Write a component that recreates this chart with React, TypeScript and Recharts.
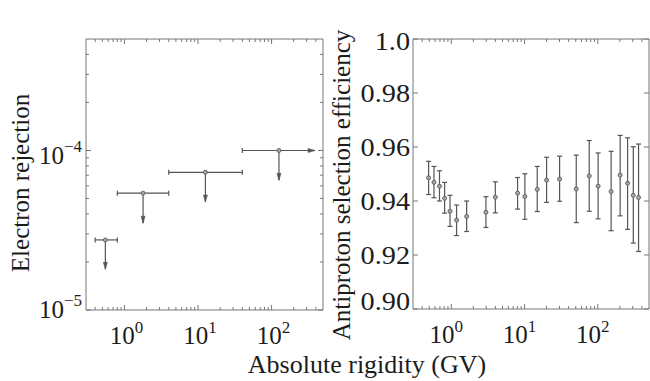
import React from 'react';
import { ScatterChart, Scatter, XAxis, YAxis, ErrorBar } from 'recharts';

const FONT = '"Liberation Serif"';
const AXIS = '#777777';
const INK = '#555555';
const TEXT = '#1c1c1c';

// ---------- Left panel: electron rejection (upper limits) ----------
const binLow = [0.4, 0.8, 4, 40];
const binHigh = [0.8, 4, 40, 390];
const binCenter = [0.55, 1.79, 12.6, 126];
const rejection = [2.75e-5, 5.4e-5, 7.3e-5, 1.0e-4];
const rejectionArrowEnd = [1.8e-5, 3.5e-5, 4.75e-5, 6.5e-5];

// ---------- Right panel: antiproton selection efficiency ----------
const rigidity = [0.49, 0.58, 0.69, 0.81, 0.96, 1.18, 1.62, 2.97, 3.99, 8.03, 10.1, 14.9, 20.0, 30.1, 50.8, 76.4, 101, 152, 202, 255, 305, 360];
const efficiency = [0.9486, 0.9469, 0.9455, 0.9410, 0.9362, 0.9329, 0.9343, 0.9358, 0.9414, 0.9429, 0.9417, 0.9443, 0.9477, 0.9481, 0.9445, 0.9493, 0.9455, 0.9435, 0.9496, 0.9466, 0.9421, 0.9413];
const effLow = [0.9424, 0.9412, 0.9400, 0.9355, 0.9306, 0.9272, 0.9287, 0.9302, 0.9356, 0.9370, 0.9332, 0.9361, 0.9395, 0.9399, 0.9320, 0.9362, 0.9334, 0.9290, 0.9345, 0.9295, 0.9244, 0.9213];
const effHigh = [0.9547, 0.9528, 0.9512, 0.9469, 0.9421, 0.9385, 0.9400, 0.9416, 0.9471, 0.9487, 0.9501, 0.9528, 0.9562, 0.9566, 0.9570, 0.9624, 0.9578, 0.9584, 0.9643, 0.9634, 0.9601, 0.9611];

// ---------- Axes ----------
const xDomain = [0.3, 500];
const xTicks = [0.4, 0.5, 0.6, 0.7, 0.8, 0.9, 1, 2, 3, 4, 5, 6, 7, 8, 9, 10, 20, 30, 40, 50, 60, 70, 80, 90, 100, 200, 300, 400];
const rejDomain = [1e-5, 5e-4];
const rejTicks = [1e-5, 2e-5, 3e-5, 4e-5, 5e-5, 6e-5, 7e-5, 8e-5, 9e-5, 1e-4, 2e-4, 3e-4, 4e-4];
const effDomain = [0.9, 1.0];
const effTicks = [0.9, 0.92, 0.94, 0.96, 0.98, 1.0];

const textStyle = { fontFamily: FONT };

const isMajorLog = (v: number) => {
  const l = Math.log10(v);
  return Math.abs(l - Math.round(l)) < 1e-6;
};

const bottomLogTick = (dx: number) => (props: any) => {
  const { x, y, payload } = props;
  const v = payload.value;
  const major = isMajorLog(v);
  return (
    <g>
      <line x1={x} y1={y} x2={x} y2={y - (major ? 5 : 3)} stroke={AXIS} strokeWidth={1} />
      {major && (
        <text x={x + dx} y={y + 34} textAnchor="middle" style={textStyle} fontSize={25} fill={TEXT}>
          10<tspan dy={-11} fontSize={17}>{Math.round(Math.log10(v))}</tspan>
        </text>
      )}
    </g>
  );
};

const topLogTick = (props: any) => {
  const { x, y, payload } = props;
  const major = isMajorLog(payload.value);
  return <line x1={x} y1={y} x2={x} y2={y + (major ? 5 : 3)} stroke={AXIS} strokeWidth={1} />;
};

const leftLogTick = (props: any) => {
  const { x, y, payload } = props;
  const v = payload.value;
  const major = isMajorLog(v);
  const e = Math.round(Math.log10(v));
  const shift = e === -5 ? -6 : 0;
  return (
    <g>
      <line x1={x} y1={y} x2={x + (major ? 5 : 3)} y2={y} stroke={AXIS} strokeWidth={1} />
      {major && (
        <text x={x - 4} y={y + 14 + shift} textAnchor="end" style={textStyle} fontSize={25} fill={TEXT}>
          10<tspan dy={-12} fontSize={17}>{'\u2212' + Math.abs(e)}</tspan>
        </text>
      )}
    </g>
  );
};

const rightLogTick = (props: any) => {
  const { x, y, payload } = props;
  const major = isMajorLog(payload.value);
  return <line x1={x} y1={y} x2={x - (major ? 5 : 3)} y2={y} stroke={AXIS} strokeWidth={1} />;
};

const leftLinTick = (props: any) => {
  const { x, y, payload } = props;
  const v = payload.value;
  const label = Math.abs(v - 1) < 1e-9 ? '1.0' : v.toFixed(2);
  let base = 8.5;
  if (Math.abs(v - 0.9) < 1e-9) base = 1;
  if (Math.abs(v - 1) < 1e-9) base = 10.5;
  return (
    <g>
      <line x1={x} y1={y} x2={x + 5} y2={y} stroke={AXIS} strokeWidth={1} />
      <text
        transform={`translate(${x - 3},${y + base}) scale(1.13,1)`}
        x={0} y={0} textAnchor="end" style={textStyle} fontSize={25} fill={TEXT}
      >
        {label}
      </text>
    </g>
  );
};

const rightLinTick = (props: any) => {
  const { x, y } = props;
  return <line x1={x} y1={y} x2={x - 5} y2={y} stroke={AXIS} strokeWidth={1} />;
};

// ---------- Marks ----------
const endShape = (props: any) => {
  const { cx, cy, payload } = props;
  if (cx == null || cy == null) return <g />;
  if (payload.end === 'cap') {
    return <line x1={cx} y1={cy - 2.5} x2={cx} y2={cy + 2.5} stroke={INK} strokeWidth={1.2} />;
  }
  if (payload.end === 'arrowRight') {
    return <polygon points={`${cx - 7},${cy - 2} ${cx - 7},${cy + 2} ${cx},${cy}`} fill={INK} stroke={INK} strokeWidth={0.6} />;
  }
  if (payload.end === 'arrowDown') {
    return <polygon points={`${cx - 2},${cy - 7} ${cx + 2},${cy - 7} ${cx},${cy}`} fill={INK} stroke={INK} strokeWidth={0.6} />;
  }
  return <g />;
};

const dotShape = (props: any) => {
  const { cx, cy } = props;
  if (cx == null || cy == null) return <g />;
  return <circle cx={cx} cy={cy} r={2} fill="#a8a8a8" stroke="#5a5a5a" strokeWidth={0.9} />;
};

const hBars = binLow.map((lo, i) => [
  { x: lo, y: rejection[i], end: 'cap' },
  { x: binHigh[i], y: rejection[i], end: i === binLow.length - 1 ? 'arrowRight' : 'cap' },
]);
const vArrows = binCenter.map((c, i) => [
  { x: c, y: rejection[i], end: 'none' },
  { x: c, y: rejectionArrowEnd[i], end: 'arrowDown' },
]);
const centers = binCenter.map((c, i) => ({ x: c, y: rejection[i] }));

const effData = rigidity.map((r, i) => ({
  x: r,
  y: efficiency[i],
  err: [efficiency[i] - effLow[i], effHigh[i] - efficiency[i]],
}));

const axisLine = { stroke: AXIS, strokeWidth: 1 };

function LeftPanel() {
  return (
    <ScatterChart width={330} height={381} margin={{ top: 38, right: 6, bottom: 70, left: 85 }}>
      <XAxis
        dataKey="x" type="number" scale="log" domain={xDomain} allowDataOverflow
        ticks={xTicks} interval={0} height={1} tickSize={0} tickMargin={0}
        tickLine={false} axisLine={axisLine} tick={bottomLogTick(2)}
      />
      <XAxis
        xAxisId="top" orientation="top" dataKey="x" type="number" scale="log" domain={xDomain} allowDataOverflow
        ticks={xTicks} interval={0} height={1} tickSize={0} tickMargin={0}
        tickLine={false} axisLine={axisLine} tick={topLogTick}
      />
      <YAxis
        dataKey="y" type="number" scale="log" domain={rejDomain} allowDataOverflow
        ticks={rejTicks} interval={0} width={1} tickSize={0} tickMargin={0}
        tickLine={false} axisLine={axisLine} tick={leftLogTick}
      />
      <YAxis
        yAxisId="right" orientation="right" dataKey="y" type="number" scale="log" domain={rejDomain} allowDataOverflow
        ticks={rejTicks} interval={0} width={1} tickSize={0} tickMargin={0}
        tickLine={false} axisLine={axisLine} tick={rightLogTick}
      />
      {hBars.map((d, i) => (
        <Scatter key={'h' + i} data={d} line={{ stroke: INK, strokeWidth: 1.2 }} shape={endShape} isAnimationActive={false} />
      ))}
      {vArrows.map((d, i) => (
        <Scatter key={'v' + i} data={d} line={{ stroke: INK, strokeWidth: 1.2 }} shape={endShape} isAnimationActive={false} />
      ))}
      <Scatter data={centers} shape={dotShape} isAnimationActive={false} />
    </ScatterChart>
  );
}

function RightPanel() {
  return (
    <ScatterChart width={320} height={381} margin={{ top: 38, right: 0, bottom: 71, left: 82 }}>
      <XAxis
        dataKey="x" type="number" scale="log" domain={xDomain} allowDataOverflow
        ticks={xTicks} interval={0} height={1} tickSize={0} tickMargin={0}
        tickLine={false} axisLine={axisLine} tick={bottomLogTick(-5)}
      />
      <XAxis
        xAxisId="top" orientation="top" dataKey="x" type="number" scale="log" domain={xDomain} allowDataOverflow
        ticks={xTicks} interval={0} height={1} tickSize={0} tickMargin={0}
        tickLine={false} axisLine={axisLine} tick={topLogTick}
      />
      <YAxis
        dataKey="y" type="number" domain={effDomain} allowDataOverflow
        ticks={effTicks} interval={0} width={1} tickSize={0} tickMargin={0}
        tickLine={false} axisLine={axisLine} tick={leftLinTick}
      />
      <YAxis
        yAxisId="right" orientation="right" dataKey="y" type="number" domain={effDomain} allowDataOverflow
        ticks={effTicks} interval={0} width={1} tickSize={0} tickMargin={0}
        tickLine={false} axisLine={axisLine} tick={rightLinTick}
      />
      <Scatter data={effData} shape={dotShape} isAnimationActive={false}>
        <ErrorBar dataKey="err" direction="y" width={2.5} stroke={INK} strokeWidth={1.2} />
      </Scatter>
    </ScatterChart>
  );
}

export default function App() {
  return (
    <div style={{ position: 'absolute', left: 0, top: 0, width: 650, height: 381, background: '#fff', overflow: 'hidden' }}>
      <div style={{ position: 'absolute', left: 0, top: 0 }}>
        <LeftPanel />
      </div>
      <div style={{ position: 'absolute', left: 330, top: 0 }}>
        <RightPanel />
      </div>
      <svg width={650} height={381} style={{ position: 'absolute', left: 0, top: 0, pointerEvents: 'none' }}>
        <text transform="translate(29,183) rotate(-90)" textAnchor="middle" style={textStyle} fontSize={25} fill={TEXT}>
          Electron rejection
        </text>
        <text transform="translate(350,185) rotate(-90)" textAnchor="middle" style={textStyle} fontSize={25} fill={TEXT}>
          Antiproton selection efficiency
        </text>
        <text x={367} y={373} textAnchor="middle" style={textStyle} fontSize={26} fill={TEXT}>
          Absolute rigidity (GV)
        </text>
      </svg>
    </div>
  );
}
